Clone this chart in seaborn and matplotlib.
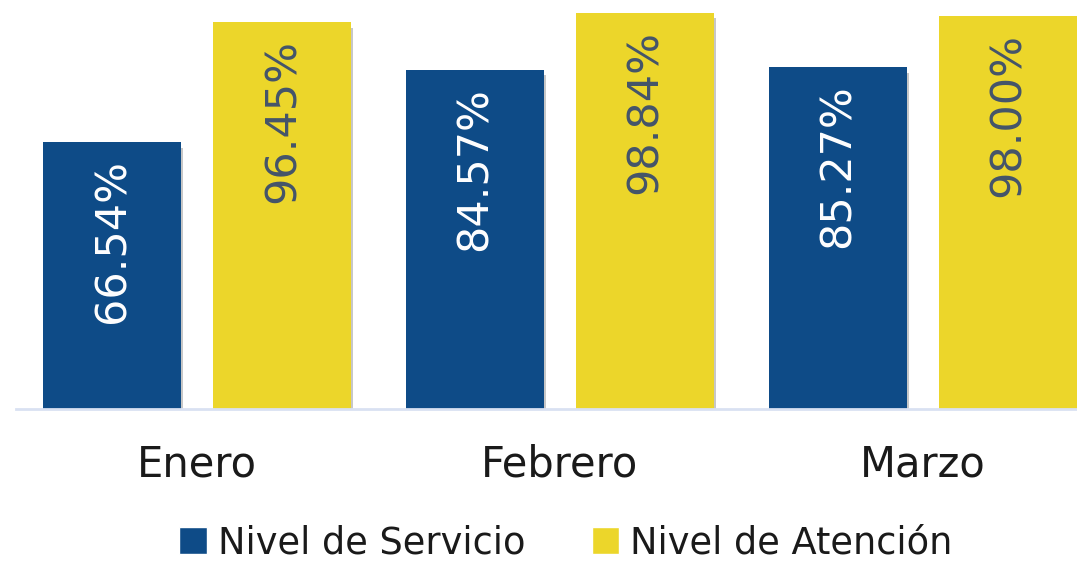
import matplotlib
matplotlib.use("Agg")
from matplotlib import pyplot as plt
from matplotlib import patheffects as pe
from matplotlib.patches import Patch
import pandas as pd
import seaborn as sns

meses = ["Enero", "Febrero", "Marzo"]
series = ["Nivel de Servicio", "Nivel de Atención"]
servicio = [66.54, 84.57, 85.27]
atencion = [96.45, 98.84, 98.00]
colores = ["#0E4B87", "#ECD62A"]
text_colors = ["white", "#44546A"]

df = pd.DataFrame({
    "mes": meses * 2,
    "serie": [series[0]] * 3 + [series[1]] * 3,
    "valor": servicio + atencion,
})

sns.set_style("white")
plt.rcParams['font.family'] = ['DejaVu Sans']

fig = plt.figure(figsize=(10.77, 5.64), dpi=100)
ax = fig.add_axes([16 / 1077, 1 - 409 / 564, 1088 / 1077, 409 / 564])

sns.barplot(data=df, x="mes", y="valor", hue="serie", order=meses, hue_order=series,
            palette=colores, width=0.937, gap=0.188, legend=False, ax=ax, saturation=1)

# sombra suave debajo de cada barra
shadow = [pe.SimplePatchShadow(offset=(1.5, -4), shadow_rgbFace="black", alpha=0.22), pe.Normal()]
for cont, tc in zip(ax.containers, text_colors):
    for bar in cont:
        bar.set_path_effects(shadow)
        bar.set_edgecolor("none")
        x = bar.get_x() + bar.get_width() / 2
        h = bar.get_height()
        ax.annotate(f"{h:.2f}%", (x, h), xytext=(0, -17), textcoords="offset pixels",
                    rotation=90, ha="center", va="top", fontsize=31, color=tc)

ax.set_ylim(0, 102)
ax.set_xlim(-0.5, 2.5)
ax.set_xlabel("")
ax.set_ylabel("")
ax.set_yticks([])
ax.tick_params(axis="x", length=0, pad=25, labelsize=30, labelcolor="#1a1a1a")
for s in ["top", "left", "right"]:
    ax.spines[s].set_visible(False)
ax.spines["bottom"].set_color("#D9E1F2")
ax.spines["bottom"].set_linewidth(2)

handles = [Patch(facecolor=c, label=l) for c, l in zip(colores, series)]
fig.legend(handles=handles, loc="center", bbox_to_anchor=(566 / 1077, 1 - 543 / 564),
           ncol=2, frameon=False, fontsize=26.5, handlelength=0.75, handleheight=0.75,
           handletextpad=0.3, columnspacing=1.8, labelcolor="#1a1a1a",
           borderpad=0, borderaxespad=0)

fig.savefig("out.png", dpi=100)
